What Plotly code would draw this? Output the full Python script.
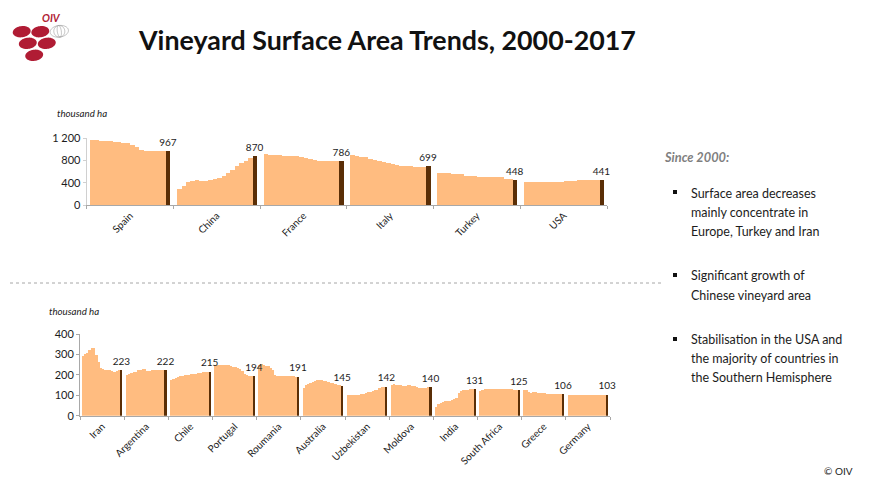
import math
import plotly.graph_objects as go

W, H = 873, 492

top_countries = ["Spain", "China", "France", "Italy", "Turkey", "USA"]
spain = [1170,1160,1150,1145,1140,1125,1120,1115,1110,1080,1030,985,970,970,970,970,970,967]
china = [290,345,410,430,440,435,435,445,465,475,520,570,620,700,750,790,840,870]
france = [905,900,895,890,885,885,885,880,860,840,820,800,795,790,790,790,785,786]
italy = [895,880,865,850,815,810,790,765,745,725,715,705,695,690,680,675,680,699]
turkey = [565,565,565,560,555,545,520,515,510,505,500,495,495,490,490,470,455,448]
usa = [415,410,410,405,405,405,405,405,410,420,425,435,440,445,445,440,440,441]
top_series = [spain, china, france, italy, turkey, usa]

bottom_countries = ["Iran", "Argentina", "Chile", "Portugal", "Roumania", "Australia",
                    "Uzbekistan", "Moldova", "India", "South Africa", "Greece", "Germany"]
iran = [292,302,305,322,331,331,297,265,232,228,226,226,222,218,216,218,222,223]
argentina = [200,205,208,212,216,222,226,227,229,218,219,222,226,226,225,223,222,222]
chile = [175,182,186,190,193,196,198,200,201,204,205,206,208,210,213,214,215,215]
portugal = [250,250,250,250,248,248,247,245,240,237,233,228,218,205,198,195,194,194]
roumania = [248,252,248,244,243,232,225,197,193,192,192,192,192,192,192,192,191,191]
australia = [135,148,155,160,165,170,173,176,176,172,168,165,160,158,155,150,148,145]
uzbekistan = [103,103,103,103,103,103,105,108,112,114,117,120,125,128,138,141,142,142]
moldova = [150,155,152,150,148,147,147,148,148,147,143,140,136,135,137,138,139,140]
india = [43,55,62,68,70,72,74,76,80,88,113,120,124,127,128,130,131,131]
south_africa = [122,126,130,132,133,133,132,132,132,132,131,132,132,131,130,128,126,125]
greece = [127,125,118,112,115,115,113,112,110,110,108,108,107,107,106,106,106,106]
germany = [102,102,102,102,102,102,102,102,102,102,102,102,102,102,103,103,103,103]
bottom_series = [iran, argentina, chile, portugal, roumania, australia, uzbekistan,
                 moldova, india, south_africa, greece, germany]

LIGHT, DARK = "#FFBC80", "#5A2E06"
SLOT = 19.5
LAT = "Lato"
INK = "#1c1c1c"


def px(x):
    return x / W


def py(y):
    return 1 - y / H


def bars(series):
    xs, ys, colors = [], [], []
    lx, ly, lt = [], [], []
    for i, vals in enumerate(series):
        for j, v in enumerate(vals):
            x = i * SLOT + 0.75 + j + 0.5
            xs.append(x)
            ys.append(v)
            last = j == len(vals) - 1
            colors.append(DARK if last else LIGHT)
            if last:
                lx.append(x)
                ly.append(v)
                lt.append(str(v))
    return xs, ys, colors, lx, ly, lt


fig = go.Figure()
for series, xa, ya in [(top_series, "x", "y"), (bottom_series, "x2", "y2")]:
    xs, ys, colors, lx, ly, lt = bars(series)
    fig.add_trace(go.Bar(
        x=xs, y=ys, xaxis=xa, yaxis=ya, width=1,
        marker=dict(color=colors, line=dict(width=0)),
        showlegend=False, hoverinfo="x+y",
    ))
    fig.add_trace(go.Scatter(
        x=lx, y=ly, xaxis=xa, yaxis=ya, mode="markers+text", text=lt, textposition="top center",
        marker=dict(size=3, opacity=0),
        cliponaxis=False, textfont=dict(family=LAT, size=10, color=INK),
        showlegend=False, hoverinfo="skip",
    ))


def xaxis(countries, left, right, anchor):
    n = len(countries)
    return dict(
        domain=[px(left), px(right)], range=[0, n * SLOT], showgrid=False, zeroline=False,
        anchor=anchor, showline=True, linecolor="#a8a8a8", linewidth=1,
        tickmode="array", tickvals=[(i + 0.5) * SLOT for i in range(n)], ticktext=countries,
        ticks="", tickangle=-45, tickfont=dict(family=LAT, size=10, color=INK),
        minor=dict(tickmode="array", tickvals=[i * SLOT for i in range(n + 1)],
                   ticks="outside", ticklen=3, tickcolor="#a8a8a8", showgrid=False),
        fixedrange=True,
    )


def yaxis(tv, tt, top, bottom, linecolor, anchor):
    return dict(
        domain=[py(bottom), py(top)], range=[0, tv[-1]], showgrid=False, zeroline=False,
        anchor=anchor, showline=True, linecolor=linecolor, linewidth=1,
        tickmode="array", tickvals=tv, ticktext=tt, ticks="outside", ticklen=3,
        tickcolor=linecolor, tickfont=dict(family=LAT, size=11, color=INK), fixedrange=True,
    )


top_ticks = [0, 400, 800, 1200]
top_tick_text = ["0", "400", "800", "1 200"]
bottom_ticks = [0, 100, 200, 300, 400]
bottom_tick_text = ["0", "100", "200", "300", "400"]


def ellipse(cx, cy, rx, ry, deg):
    a = math.radians(deg)
    pts = []
    for k in range(48):
        t = 2 * math.pi * k / 48
        ex, ey = rx * math.cos(t), ry * math.sin(t)
        xp = cx + ex * math.cos(a) - ey * math.sin(a)
        yp = cy + ex * math.sin(a) + ey * math.cos(a)
        pts.append(f"{px(xp):.5f},{py(yp):.5f}")
    return "M" + " L".join(pts) + " Z"


shapes = []
for cx, cy in [(21.7, 31.7), (40.3, 31.7), (27.8, 43.3), (46.8, 43.3), (34.2, 55.3)]:
    shapes.append(dict(type="path", xref="paper", yref="paper", path=ellipse(cx, cy, 9, 5.6, -8),
                       fillcolor="#B01C34", line=dict(width=0)))
for rx in [9.2, 5.5, 2]:
    shapes.append(dict(type="path", xref="paper", yref="paper", path=ellipse(59.3, 31.3, rx, 5.8, -8),
                       fillcolor="rgba(0,0,0,0)", line=dict(width=0.6, color="#9a9a9a")))
shapes.append(dict(type="line", xref="paper", yref="paper", x0=px(10), x1=px(663), y0=py(283), y1=py(283),
                   line=dict(width=1, color="#a6a6a6", dash="dot")))
for by in [192, 275, 339]:
    shapes.append(dict(type="rect", xref="paper", yref="paper", x0=px(673), x1=px(677),
                       y0=py(by - 2), y1=py(by + 2), fillcolor="#111111", line=dict(width=0)))


def note(text, x, y, size, family=LAT, color=INK, anchor="left"):
    return dict(text=text, x=px(x), y=py(y), xref="paper", yref="paper", xanchor=anchor,
                yanchor="middle", showarrow=False, font=dict(family=family, size=size, color=color))


notes = [
    note("<b>Vineyard Surface Area Trends, 2000-2017</b>", 136, 40, 26.8, color="#111111"),
    note("<b><i>OIV</i></b>", 40, 18, 10.5, color="#B01C34"),
    note("<i>thousand ha</i>", 55, 113, 9.7),
    note("<i>thousand ha</i>", 47, 311, 9.7),
    note("<b><i>Since 2000:</i></b>", 662, 157, 12.8, color="#7f7f7f"),
    note("© OIV", 822, 471, 10),
]
bullet_lines = [
    ("Surface area decreases", 193), ("mainly concentrate in", 212), ("Europe, Turkey and Iran", 231),
    ("Significant growth of", 275), ("Chinese vineyard area", 295),
    ("Stabilisation in the USA and", 339), ("the majority of countries in", 358), ("the Southern Hemisphere", 377),
]
for line, y in bullet_lines:
    notes.append(note(line, 689, y, 12.5))

fig.update_layout(
    width=W, height=H, margin=dict(l=0, r=0, t=0, b=0, autoexpand=False),
    paper_bgcolor="white", plot_bgcolor="white",
    barmode="overlay", bargap=0,
    xaxis=xaxis(top_countries, 86.7, 607, "y"),
    yaxis=yaxis(top_ticks, top_tick_text, 138.3, 205, "#d0d0d0", "x"),
    xaxis2=xaxis(bottom_countries, 80, 610, "y2"),
    yaxis2=yaxis(bottom_ticks, bottom_tick_text, 334, 415.7, "#a8a8a8", "x2"),
    shapes=shapes, annotations=notes,
)
fig.write_html("out.html", config=dict(displayModeBar=False),
               post_script="document.body.style.margin='0';")
